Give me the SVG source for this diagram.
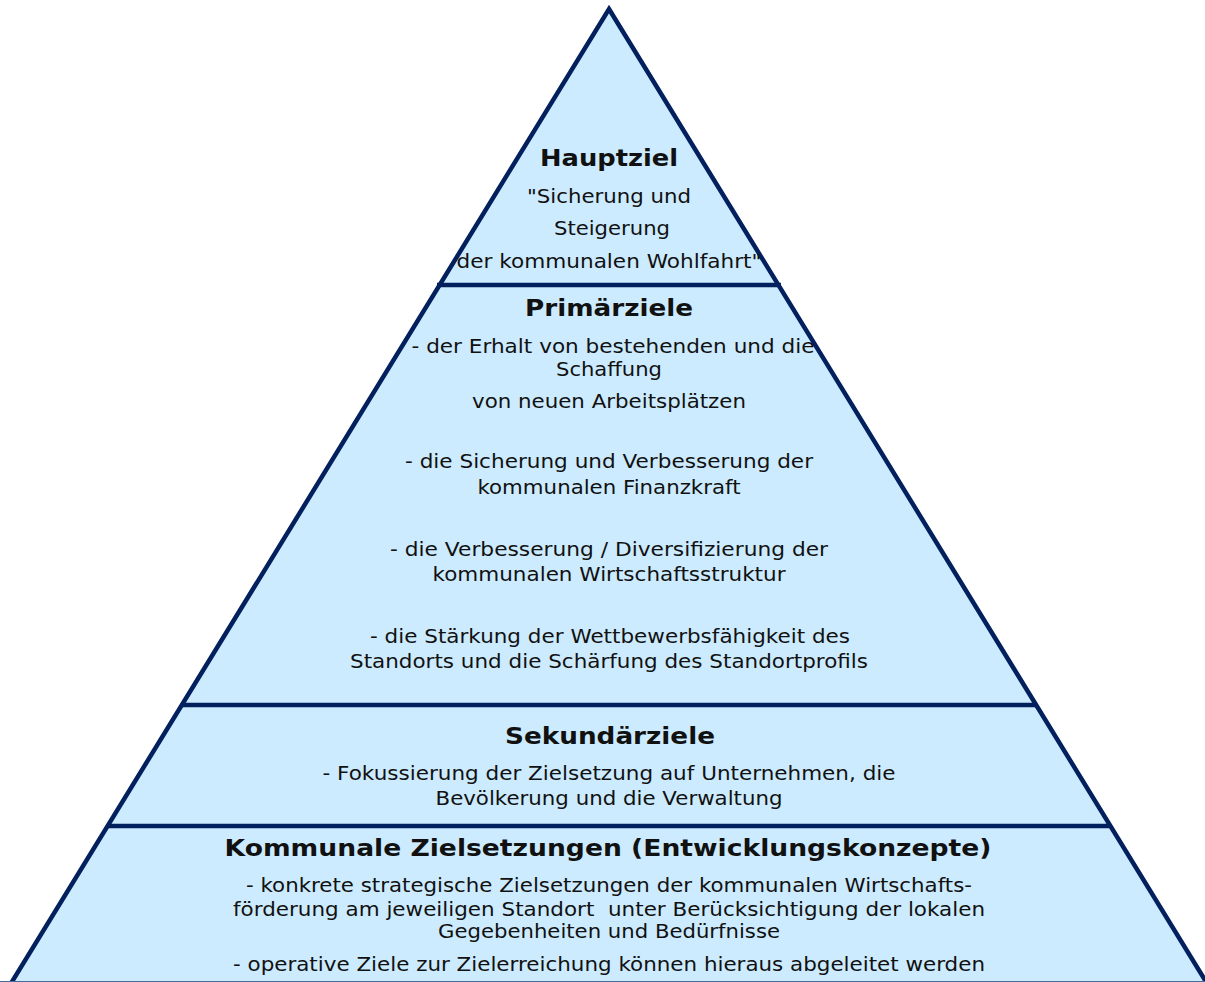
<svg xmlns="http://www.w3.org/2000/svg" width="1205" height="982" viewBox="0 0 1205 982">
<style>
.t{font-family:"DejaVu Sans","Liberation Sans",sans-serif;fill:#111;text-anchor:middle;font-size:19px}
.h{font-weight:bold;font-size:23px}
.c{font-size:20px}
</style>
<rect width="1205" height="982" fill="#fff"/>
<g id="pyramid">
<polygon points="609,9 1208,985 10,985" fill="#CCEBFF" stroke="#02205E" stroke-width="4.5" stroke-linejoin="miter"/>
<line x1="0" y1="981.5" x2="1205" y2="981.5" stroke="#4A6A9E" stroke-width="1"/>
</g>
<g id="connectors" stroke="#02205E" stroke-width="4.5">
<line x1="437" y1="285" x2="781" y2="285"/>
<line x1="182" y1="705" x2="1036" y2="705"/>
<line x1="108" y1="826" x2="1110" y2="826"/>
</g>
<g id="hauptziel">
<text class="t h" x="609" y="166" textLength="138" lengthAdjust="spacingAndGlyphs">Hauptziel</text>
<text class="t" x="609" y="203" textLength="164" lengthAdjust="spacingAndGlyphs">"Sicherung und</text>
<text class="t" x="612" y="235" textLength="116" lengthAdjust="spacingAndGlyphs">Steigerung</text>
<text class="t" x="609" y="268" textLength="305" lengthAdjust="spacingAndGlyphs">der kommunalen Wohlfahrt"</text>
</g>
<g id="primaerziele">
<text class="t h" x="609" y="316" textLength="168" lengthAdjust="spacingAndGlyphs">Primärziele</text>
<text class="t" x="613" y="353" textLength="403" lengthAdjust="spacingAndGlyphs">- der Erhalt von bestehenden und die</text>
<text class="t" x="609" y="376" textLength="106" lengthAdjust="spacingAndGlyphs">Schaffung</text>
<text class="t" x="609" y="408" textLength="274" lengthAdjust="spacingAndGlyphs">von neuen Arbeitsplätzen</text>
<text class="t" x="609" y="468" textLength="408" lengthAdjust="spacingAndGlyphs">- die Sicherung und Verbesserung der</text>
<text class="t" x="609" y="494" textLength="263" lengthAdjust="spacingAndGlyphs">kommunalen Finanzkraft</text>
<text class="t" x="609" y="556" textLength="438" lengthAdjust="spacingAndGlyphs">- die Verbesserung / Diversifizierung der</text>
<text class="t" x="609" y="581" textLength="353" lengthAdjust="spacingAndGlyphs">kommunalen Wirtschaftsstruktur</text>
<text class="t" x="610" y="643" textLength="480" lengthAdjust="spacingAndGlyphs">- die Stärkung der Wettbewerbsfähigkeit des</text>
<text class="t" x="609" y="668" textLength="518" lengthAdjust="spacingAndGlyphs">Standorts und die Schärfung des Standortprofils</text>
</g>
<g id="sekundaerziele">
<text class="t h" x="610" y="744" textLength="210" lengthAdjust="spacingAndGlyphs">Sekundärziele</text>
<text class="t" x="609" y="780" textLength="573" lengthAdjust="spacingAndGlyphs">- Fokussierung der Zielsetzung auf Unternehmen, die</text>
<text class="t" x="609" y="805" textLength="347" lengthAdjust="spacingAndGlyphs">Bevölkerung und die Verwaltung</text>
</g>
<g id="kommunale-zielsetzungen">
<text class="t h" x="608" y="856" textLength="767" lengthAdjust="spacingAndGlyphs">Kommunale Zielsetzungen (Entwicklungskonzepte)</text>
<text class="t c" x="609" y="892" textLength="726" lengthAdjust="spacingAndGlyphs">- konkrete strategische Zielsetzungen der kommunalen Wirtschafts-</text>
<text class="t c" x="609" y="916" textLength="752" lengthAdjust="spacingAndGlyphs" xml:space="preserve">förderung am jeweiligen Standort  unter Berücksichtigung der lokalen</text>
<text class="t c" x="609" y="938" textLength="342" lengthAdjust="spacingAndGlyphs">Gegebenheiten und Bedürfnisse</text>
<text class="t c" x="609" y="971" textLength="752" lengthAdjust="spacingAndGlyphs">- operative Ziele zur Zielerreichung können hieraus abgeleitet werden</text>
</g>
</svg>
